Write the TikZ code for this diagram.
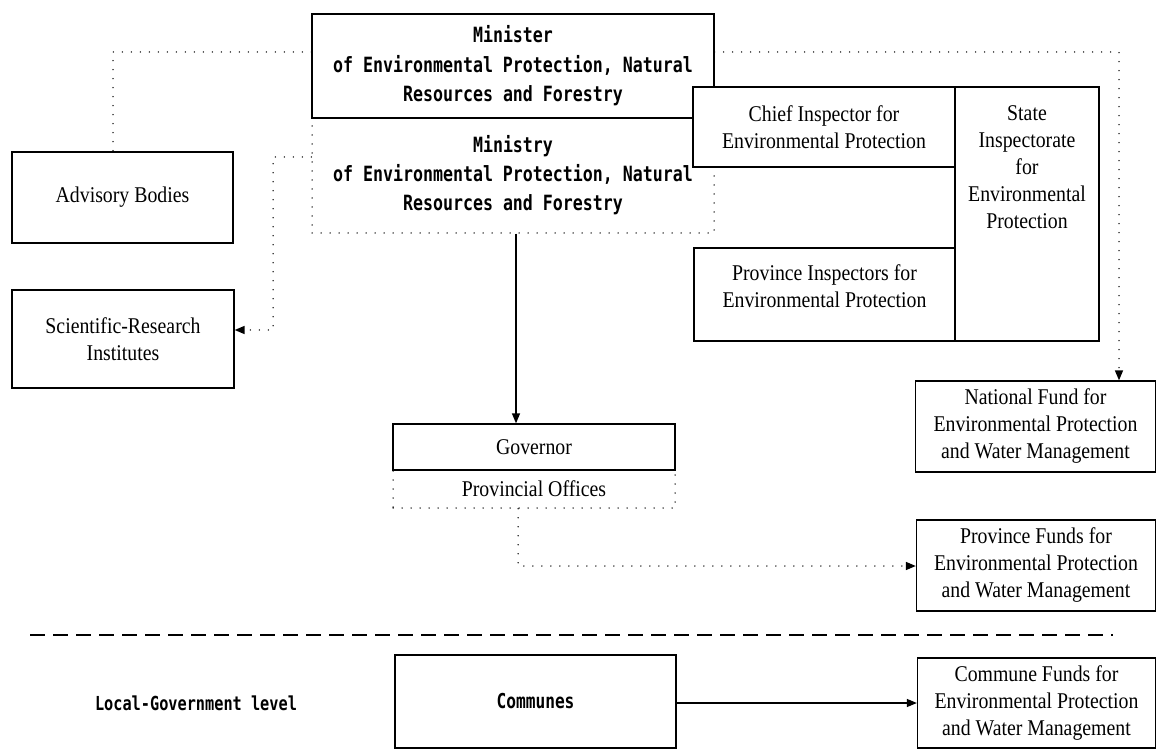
\documentclass[tikz,border=0pt]{standalone}
\usepackage{fontspec}
\usetikzlibrary{arrows.meta}
\newfontfamily\serifnarrow[FakeStretch=0.88]{Liberation Serif}
\newfontfamily\mononarrow[FakeStretch=0.79]{DejaVu Sans Mono}
\tikzset{
  sbox/.style={draw, line width=1.3pt, fill=white, inner sep=0pt, align=center,
    font=\serifnarrow\fontsize{22.5}{27}\selectfont},
  stext/.style={inner sep=0pt, align=center, font=\serifnarrow\fontsize{22.5}{27}\selectfont},
  mbox/.style={draw, line width=1.3pt, fill=white, inner sep=0pt, align=center,
    font=\mononarrow\bfseries\fontsize{21}{29.5}\selectfont},
  dotbox/.style={draw, line width=1.5pt, line cap=round, dash pattern=on 0pt off 9pt,
    inner sep=0pt, align=center},
  dotline/.style={line width=1.5pt, line cap=round, dash pattern=on 0pt off 9pt},
  solidarrow/.style={line width=1.3pt, -{Triangle[length=10pt,width=8pt]}},
  dotarrow/.style={dotline, -{Triangle[length=10pt,width=8pt]}},
}
\begin{document}
\begin{tikzpicture}[x=1pt,y=-1pt]
\useasboundingbox (0,0) rectangle (1157,751);
\fill[white] (0,0) rectangle (1157,751);

% Ministry (dotted) and Minister
\node[dotbox, minimum width=402, minimum height=115,
  font=\mononarrow\bfseries\fontsize{21}{29}\selectfont] (ministry) at (513,175.5)
  {Ministry\\of Environmental Protection, Natural\\Resources and Forestry};
\node[mbox, minimum width=402, minimum height=104] (minister) at (513,66)
  {Minister\\of Environmental Protection, Natural\\Resources and Forestry};

% Advisory bodies, scientific institutes
\node[sbox, minimum width=221, minimum height=91] (advisory) at (122.5,197.5) {Advisory Bodies};
\node[sbox, minimum width=222, minimum height=98] (scientific) at (123,339)
  {Scientific-Research\\Institutes};

% Inspectorate
\node[sbox, minimum width=144, minimum height=254] (state) at (1027,214) {};
\node[stext] (statetext) at (1027,167) {State\\Inspectorate\\for\\Environmental\\Protection};
\node[sbox, minimum width=262, minimum height=80] (chief) at (824,127)
  {Chief Inspector for\\Environmental Protection};
\node[sbox, minimum width=261, minimum height=93] (provinsp) at (824.5,294.5) {};
\node[stext] (provinsptext) at (824.5,286.5) {Province Inspectors for\\Environmental Protection};

% Funds
\node[sbox, minimum width=240, minimum height=91] (natfund) at (1035.5,426.5)
  {National Fund for\\Environmental Protection\\and Water Management};
\node[sbox, minimum width=239, minimum height=91] (provfund) at (1036,565.5)
  {Province Funds for\\Environmental Protection\\and Water Management};
\node[sbox, minimum width=238, minimum height=90] (comfund) at (1036.5,703)
  {Commune Funds for\\Environmental Protection\\and Water Management};

% Governor / provincial offices
\node[dotbox, minimum width=282, minimum height=38,
  font=\serifnarrow\fontsize{22.5}{27}\selectfont] (offices) at (534,489) {Provincial Offices};
\node[sbox, minimum width=282, minimum height=46] (governor) at (534,447) {Governor};

% Communes
\node[mbox, minimum width=281, minimum height=93, font=\mononarrow\bfseries\fontsize{20.5}{24}\selectfont] (communes) at (535.5,701.5) {Communes};
\node[inner sep=0pt, font=\mononarrow\bfseries\fontsize{19.3}{23}\selectfont] (localgov) at (196,703)
  {Local-Government level};

% Connectors
\coordinate (ca) at (113,52);
\draw[dotline] (minister.west |- ca) -- (ca) -- (advisory.north -| ca);
\coordinate (cs1) at (273,157);
\coordinate (cs2) at (273,330);
\draw[dotarrow] (ministry.west |- cs1) -- (cs1) -- (cs2) -- (scientific.east |- cs2);
\draw[solidarrow] (ministry.south -| 516,0) -- (governor.north -| 516,0);
\coordinate (cn) at (1119,52);
\draw[dotarrow] (minister.east |- cn) -- (cn) -- (natfund.north -| cn);
\coordinate (cp) at (518,566);
\draw[dotarrow] (offices.south -| cp) -- (cp) -- (provfund.west |- cp);
\draw[solidarrow] (communes.east |- 0,703) -- (comfund.west |- 0,703);

% Level separator
\coordinate (dl) at (30,635);
\coordinate (dr) at (1113,635);
\draw[line width=2pt, dash pattern=on 15pt off 8pt] (dl) -- (dr);
\end{tikzpicture}
\end{document}
